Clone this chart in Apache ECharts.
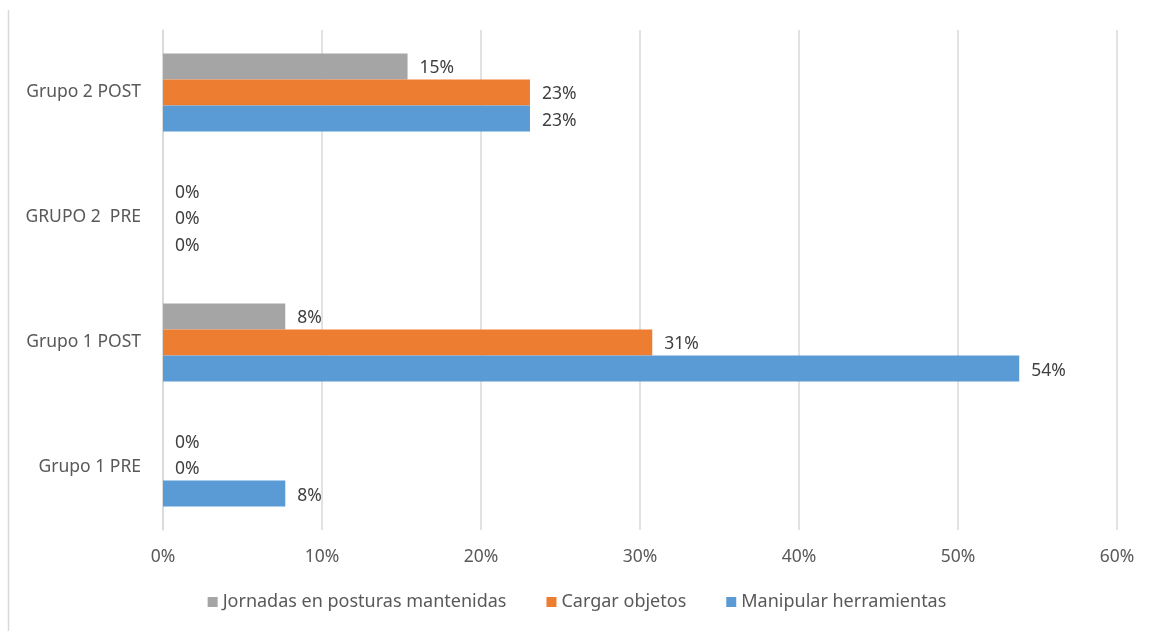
<!DOCTYPE html>
<html lang="es">
<head>
<meta charset="UTF-8">
<title>Chart</title>
<script src="https://cdn.jsdelivr.net/npm/echarts@6/dist/echarts.min.js"></script>
<style>
  html, body { margin: 0; padding: 0; background: #fff; }
  #main { width: 1154px; height: 631px; }
</style>
</head>
<body>
<div id="main"></div>
<script>
  // categories from bottom to top
  const categories = ['Grupo 1 PRE', 'Grupo 1 POST', 'GRUPO 2  PRE', 'Grupo 2 POST'];
  const manipular = [7.69, 53.85, 0, 23.08];
  const cargar = [0, 30.77, 0, 23.08];
  const jornadas = [0, 7.69, 0, 15.38];
  const xTicks = [0, 10, 20, 30, 40, 50, 60];

  const font = 'Noto Sans';
  const labelStyle = {
    show: true,
    position: 'right',
    distance: 12,
    offset: [0, 2],
    color: '#404040',
    fontSize: 17.5,
    fontFamily: font,
    formatter: p => Math.round(p.value) + '%'
  };

  function bar(name, data, color) {
    return {
      name: name,
      type: 'bar',
      data: data,
      barGap: '0%',
      barCategoryGap: '37.5%',
      itemStyle: { color: color },
      label: labelStyle
    };
  }

  const chart = echarts.init(document.getElementById('main'));
  chart.setOption({
    animation: false,
    grid: { left: 163, right: 37, top: 30, bottom: 101, containLabel: false },
    legend: {
      bottom: 15,
      left: 'center',
      itemWidth: 10,
      itemHeight: 10,
      itemGap: 40,
      icon: 'rect',
      textStyle: { color: '#595959', fontSize: 18, fontFamily: font },
      data: ['Jornadas en posturas mantenidas', 'Cargar objetos', 'Manipular herramientas']
    },
    xAxis: {
      type: 'value',
      min: xTicks[0],
      max: xTicks[xTicks.length - 1],
      interval: 10,
      axisLine: { show: false },
      axisTick: { show: false },
      splitLine: { lineStyle: { color: '#d9d9d9', width: 1.5 } },
      axisLabel: {
        color: '#595959', fontSize: 17.5, fontFamily: font, margin: 18,
        formatter: v => v + '%'
      }
    },
    yAxis: {
      type: 'category',
      data: categories,
      axisLine: { show: true, lineStyle: { color: '#d9d9d9', width: 1.5 } },
      axisTick: { show: false },
      axisLabel: { color: '#595959', fontSize: 17.5, fontFamily: font, margin: 22 }
    },
    // first series is drawn at the top of each group
    series: [
      bar('Jornadas en posturas mantenidas', jornadas, '#a5a5a5'),
      bar('Cargar objetos', cargar, '#ed7d31'),
      bar('Manipular herramientas', manipular, '#5b9bd5')
    ],
    graphic: [{
      type: 'line',
      shape: { x1: 8.5, y1: 10, x2: 8.5, y2: 631 },
      style: { stroke: '#d9d9d9', lineWidth: 1.5 }
    }]
  });
</script>
</body>
</html>
